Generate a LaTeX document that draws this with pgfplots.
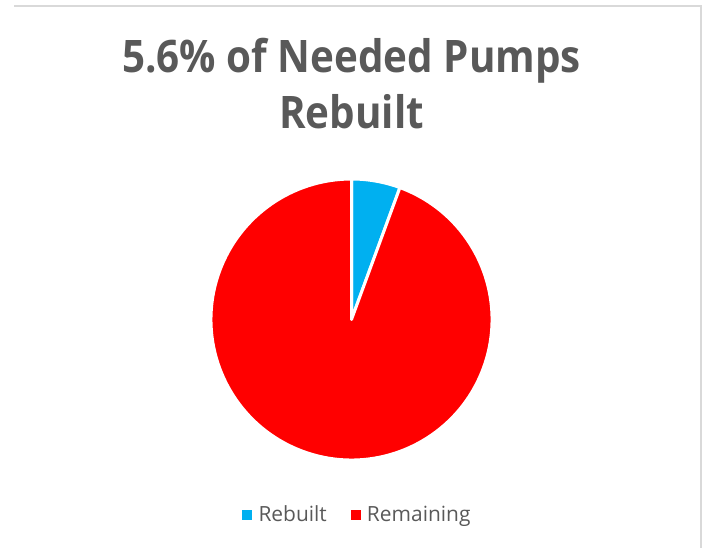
\documentclass[border=0pt]{standalone}
\usepackage{pgfplots}
\pgfplotsset{compat=1.18}
\usepackage{pgfplotstable}
\usepackage{fontspec}
\setmainfont{Open Sans}
\newfontfamily\titlefont[FakeStretch=0.9]{Open Sans}

\definecolor{rebuiltblue}{HTML}{00B0F0}
\definecolor{remainred}{HTML}{FF0000}
\definecolor{txtgray}{HTML}{595959}
\definecolor{framegray}{HTML}{D9D9D9}

% share of needed pumps, in percent
\pgfplotstableread{
category share
Rebuilt 5.6
Remaining 94.4
}\pumps

\pgfplotstablegetelem{0}{share}\of\pumps
\let\shareRebuilt\pgfplotsretval
\pgfplotstablegetelem{1}{share}\of\pumps
\let\shareRemaining\pgfplotsretval

% wedges start at twelve o'clock and run clockwise
\pgfmathsetmacro\angA{90}
\pgfmathsetmacro\angB{90-3.6*\shareRebuilt}
\pgfmathsetmacro\angC{\angB-3.6*\shareRemaining}

\begin{document}
\begin{tikzpicture}
\path[use as bounding box] (0,0) rectangle (703bp,548bp);
% chart frame (top and right edges)
\draw[framegray, line width=2bp] (14bp,541.5bp) -- (700.5bp,541.5bp) -- (700.5bp,0);

\node[font=\titlefont\bfseries\fontsize{45}{54}\selectfont, text=txtgray, anchor=base] at (351.5bp,475bp) {5.6\% of Needed Pumps};
\node[font=\titlefont\bfseries\fontsize{45}{54}\selectfont, text=txtgray, anchor=base] at (351.5bp,419bp) {Rebuilt};

\begin{axis}[
  at={(351.5bp,228.5bp)}, anchor=origin,
  x=140.5bp, y=140.5bp,
  xmin=-1, xmax=1, ymin=-1, ymax=1,
  hide axis, clip=false,
  legend columns=2,
  legend style={draw=none, fill=none, font=\fontsize{21}{24}\selectfont, text=txtgray,
    at={(0.521,-0.194)}, anchor=center,
    /tikz/every even column/.append style={column sep=22bp}},
  legend image code/.code={\fill[#1] (0bp,-4.5bp) rectangle (9bp,4.5bp);
    \path[draw=none, fill=none] (0bp,0) rectangle (14bp,0.1bp);},
]
\addlegendimage{rebuiltblue}
\addlegendentry{Rebuilt}
\addlegendimage{remainred}
\addlegendentry{Remaining}

\filldraw[fill=rebuiltblue, draw=white, line width=3bp, line join=round]
  (axis cs:0,0) -- (axis cs:{cos(\angA)},{sin(\angA)})
  arc[start angle=\angA, end angle=\angB, radius=140.5bp] -- cycle;
\filldraw[fill=remainred, draw=white, line width=3bp, line join=round]
  (axis cs:0,0) -- (axis cs:{cos(\angB)},{sin(\angB)})
  arc[start angle=\angB, end angle=\angC, radius=140.5bp] -- cycle;
\end{axis}
\end{tikzpicture}
\end{document}
